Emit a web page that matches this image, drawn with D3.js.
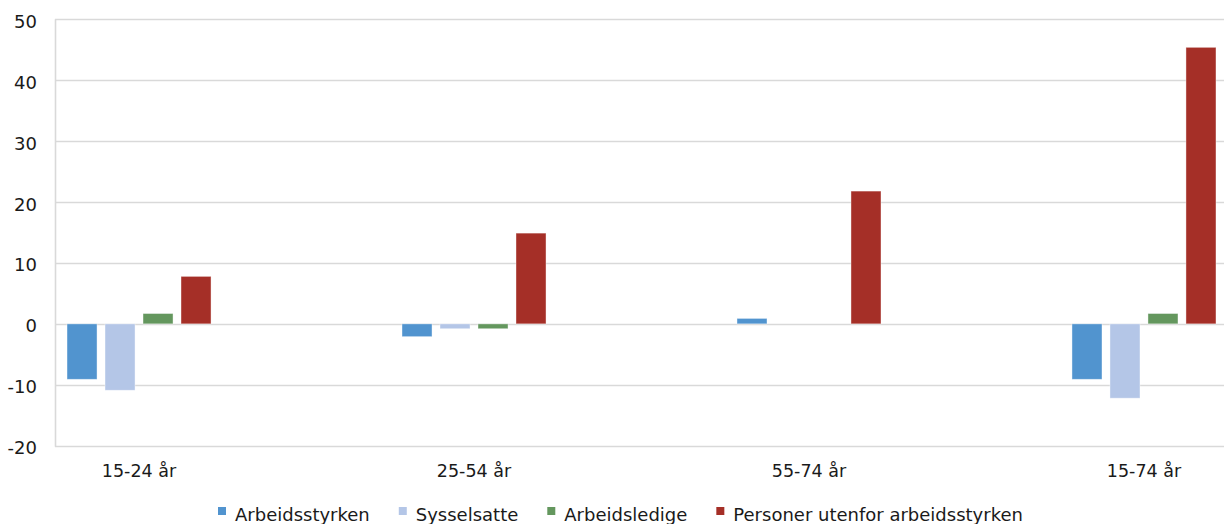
<!DOCTYPE html>
<html>
<head>
<meta charset="utf-8">
<script src="https://cdn.jsdelivr.net/npm/d3@7"></script>
<style>
  html, body { margin: 0; padding: 0; background: #fff; }
  svg { display: block; font-family: "DejaVu Sans", sans-serif; }
</style>
</head>
<body>
<svg id="chart" width="1224" height="524"></svg>
<script>
const categories = ["15-24 år", "25-54 år", "55-74 år", "15-74 år"];
const seriesNames = ["Arbeidsstyrken", "Sysselsatte", "Arbeidsledige", "Personer utenfor arbeidsstyrken"];
const arbeidsstyrken = [-9.1, -2.1, 0.9, -9.1];
const sysselsatte = [-10.9, -0.8, 0, -12.2];
const arbeidsledige = [1.7, -0.8, 0, 1.7];
const personerUtenfor = [7.8, 14.9, 21.8, 45.4];
const yTicks = [-20, -10, 0, 10, 20, 30, 40, 50];
const colors = ["#5194cf", "#b4c6e7", "#64975e", "#a52f27"];

const seriesValues = [arbeidsstyrken, sysselsatte, arbeidsledige, personerUtenfor];

const svg = d3.select("#chart");
const plotLeft = 55, plotRight = 1224;

const y = d3.scaleLinear().domain([-20, 50]).range([445.7, 19.3]);
const x0 = d3.scaleBand().domain(categories).range([57, 1226])
  .paddingInner(0.5701).paddingOuter(0.0299);
const x1 = d3.scaleBand().domain(seriesNames).range([0, x0.bandwidth()])
  .paddingInner(0.21).paddingOuter(0);

// gridlines
svg.append("g").selectAll("line").data(yTicks).join("line")
  .attr("x1", plotLeft).attr("x2", plotRight)
  .attr("y1", d => Math.round(y(d)) + 0.5).attr("y2", d => Math.round(y(d)) + 0.5)
  .attr("stroke", "#d9d9d9").attr("stroke-width", 1.6);

// left axis line
svg.append("line")
  .attr("x1", plotLeft + 0.5).attr("x2", plotLeft + 0.5)
  .attr("y1", y(50)).attr("y2", y(-20) + 1)
  .attr("stroke", "#d9d9d9").attr("stroke-width", 1.6);

// y tick labels
svg.append("g").selectAll("text").data(yTicks).join("text")
  .attr("x", 37).attr("y", d => y(d) + 8.5)
  .attr("text-anchor", "end")
  .attr("font-size", 18).attr("fill", "#1a1a1a")
  .text(d => d);

// bars
const groups = svg.append("g").selectAll("g").data(categories).join("g")
  .attr("transform", d => `translate(${x0(d)},0)`);
groups.selectAll("rect")
  .data((c, ci) => seriesNames.map((s, si) => ({ s, si, v: seriesValues[si][ci] })))
  .join("rect")
  .attr("x", d => x1(d.s))
  .attr("width", x1.bandwidth())
  .attr("y", d => y(Math.max(0, d.v)))
  .attr("height", d => Math.abs(y(d.v) - y(0)))
  .attr("fill", d => colors[d.si])
  .attr("stroke", "#ffffff").attr("stroke-opacity", 0.5).attr("stroke-width", 0.8);

// x category labels
svg.append("g").selectAll("text").data(categories).join("text")
  .attr("x", d => x0(d) + x0.bandwidth() / 2)
  .attr("y", 477)
  .attr("text-anchor", "middle")
  .attr("font-size", 17.5).attr("fill", "#1a1a1a")
  .text(d => d);

// legend
const legend = svg.append("g");
const items = legend.selectAll("g").data(seriesNames).join("g");
items.append("rect")
  .attr("width", 8).attr("height", 8).attr("y", 507)
  .attr("fill", (d, i) => colors[i]);
items.append("text")
  .attr("x", 17).attr("y", 521)
  .attr("font-size", 18).attr("fill", "#1a1a1a")
  .text(d => d);
const gap = 29;
const widths = [];
items.each(function () {
  const w = 17 + d3.select(this).select("text").node().getComputedTextLength();
  widths.push(w);
});
let start = 218;
items.attr("transform", (d, i) => {
  const t = `translate(${start},0)`;
  start += widths[i] + gap;
  return t;
});
</script>
</body>
</html>
